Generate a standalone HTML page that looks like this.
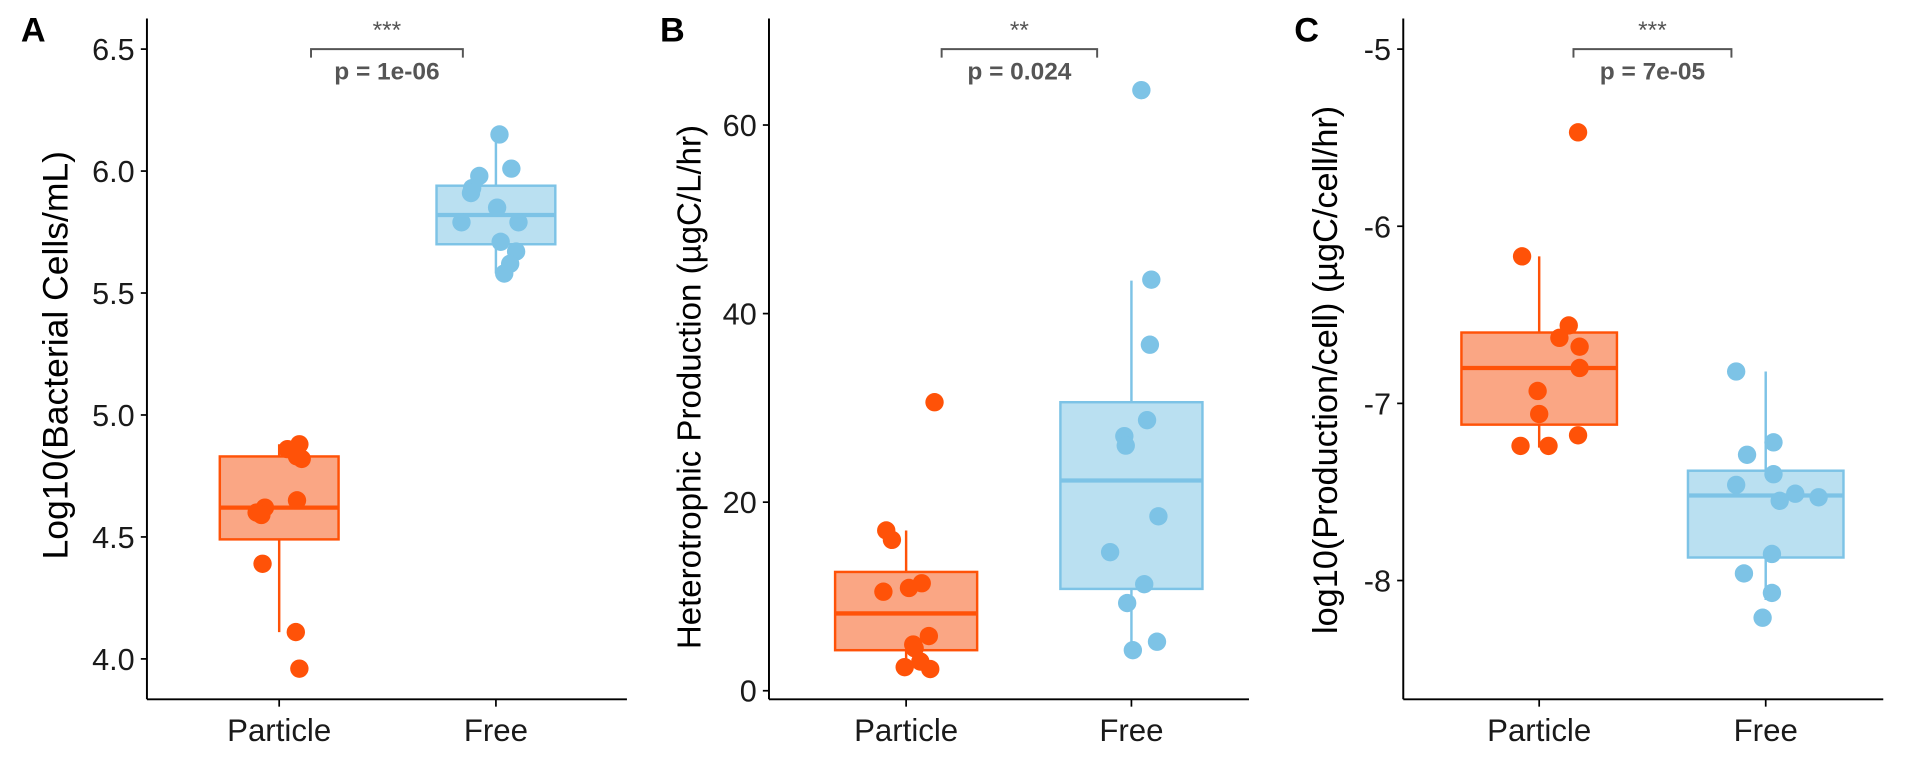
<!DOCTYPE html>
<html><head><meta charset="utf-8"><style>
html,body{margin:0;padding:0;background:#fff;width:1920px;height:768px;overflow:hidden}
svg{display:block;font-family:"Liberation Sans",sans-serif}
</style></head><body>
<svg id="chart" width="1920" height="768" viewBox="0 0 1568 627" xmlns="http://www.w3.org/2000/svg"></svg>
<script>
const categories = ["Particle","Free"];
// Panel A
const aTicks = [4.0,4.5,5.0,5.5,6.0,6.5];
const aBoxes = [[4.11,4.49,4.62,4.83,4.88],[5.58,5.70,5.82,5.94,6.15]];
const aPart = [4.86,4.88,4.83,4.82,4.65,4.62,4.60,4.59,4.39,4.11,3.96];
const aPartJ = [0.07,0.17,0.15,0.19,0.15,-0.12,-0.19,-0.15,-0.14,0.14,0.17];
const aFree = [6.15,6.01,5.98,5.93,5.91,5.85,5.79,5.79,5.71,5.67,5.62,5.58];
const aFreeJ = [0.03,0.13,-0.14,-0.20,-0.21,0.01,-0.29,0.19,0.04,0.17,0.12,0.07];
// Panel B
const bTicks = [0,20,40,60];
const bBoxes = [[2.3,4.3,8.2,12.6,17],[4.3,10.8,22.3,30.6,43.5]];
const bPart = [30.6,17,16,11.4,10.9,10.5,5.8,4.9,4.5,3.1,2.3,2.5];
const bPartJ = [0.20,-0.14,-0.10,0.11,0.02,-0.16,0.16,0.05,0.06,0.10,0.17,-0.01];
const bFree = [63.7,43.6,36.7,28.7,27,26,18.5,14.7,11.3,9.3,5.2,4.3];
const bFreeJ = [0.07,0.14,0.13,0.11,-0.05,-0.04,0.19,-0.15,0.09,-0.03,0.18,0.01];
// Panel C
const cTicks = [-8,-7,-6,-5];
const cBoxes = [[-7.25,-7.12,-6.80,-6.60,-6.17],[-8.11,-7.87,-7.52,-7.38,-6.82]];
const cPart = [-5.47,-6.17,-6.56,-6.63,-6.68,-6.80,-6.93,-7.06,-7.18,-7.24,-7.24];
const cPartJ = [0.25,-0.11,0.19,0.13,0.26,0.26,-0.01,0.00,0.25,-0.12,0.06];
const cFree = [-6.82,-7.22,-7.29,-7.40,-7.46,-7.51,-7.53,-7.55,-7.85,-7.96,-8.07,-8.21];
const cFreeJ = [-0.19,0.05,-0.12,0.05,-0.19,0.19,0.34,0.09,0.04,-0.14,0.04,-0.02];

const NS="http://www.w3.org/2000/svg";
const svg=document.getElementById('chart');
const OR="#FF5208", ORF="#FAA684", BL="#7DC3E6", BLF="#BAE0F1";
function mk(tag,attrs,parent,text){const e=document.createElementNS(NS,tag);for(const k in attrs)e.setAttribute(k,attrs[k]);if(text!==undefined)e.textContent=text;(parent||svg).appendChild(e);return e;}

function panel(cfg){
  const g=mk('g',{});
  
  
  const y=v=>cfg.y0+(v-cfg.v0)*(cfg.y1-cfg.y0)/(cfg.v1-cfg.v0);
  const x=i=>cfg.xc[i];
  const bw=cfg.bw;
  [[cfg.boxes[0],OR,ORF],[cfg.boxes[1],BL,BLF]].forEach(([b,c,f],i)=>{
    const bg=mk('g',{},g);
    
    
    mk('line',{x1:x(i),x2:x(i),y1:y(b[0]),y2:y(b[4]),stroke:c,'stroke-width':2},bg);
    mk('rect',{x:x(i)-bw/2,y:y(b[3]),width:bw,height:y(b[1])-y(b[3]),fill:f,stroke:c,'stroke-width':2},bg);
    mk('line',{x1:x(i)-bw/2,x2:x(i)+bw/2,y1:y(b[2]),y2:y(b[2]),stroke:c,'stroke-width':3.5},bg);
  });
  [[cfg.part,cfg.partJ,OR,0],[cfg.free,cfg.freeJ,BL,1]].forEach(([vals,jit,c,i])=>{
    vals.forEach((v,k)=>{
      const p=mk('circle',{cx:x(i)+jit[k]*bw,cy:y(v),r:7.5,fill:c},g);
      
      
    });
  });
  const ax=mk('g',{},g);
  
  
  mk('line',{x1:cfg.ax,x2:cfg.ax,y1:15,y2:571,stroke:'#000','stroke-width':1.6},ax);
  mk('line',{x1:cfg.ax,x2:cfg.ax+392,y1:571,y2:571,stroke:'#000','stroke-width':1.6},ax);
  cfg.ticks.forEach(t=>{
    mk('line',{x1:cfg.ax-5,x2:cfg.ax,y1:y(t),y2:y(t),stroke:'#000','stroke-width':1.4},ax);
    const l=mk('text',{x:cfg.ax-10,y:y(t)+9,'text-anchor':'end','font-size':25,fill:'#1a1a1a'},ax,cfg.fmt(t));
    
    
  });
  categories.forEach((c,i)=>{
    mk('line',{x1:x(i),x2:x(i),y1:571,y2:577,stroke:'#000','stroke-width':1.4},ax);
    const l=mk('text',{x:x(i),y:605,'text-anchor':'middle','font-size':25.5,fill:'#1a1a1a'},ax,c);
    
    
  });
  const yt=mk('text',{transform:`translate(${cfg.tx},${cfg.ty}) rotate(-90)`,'text-anchor':'middle','font-size':cfg.tf,fill:'#000'},g,cfg.title);
  
  
  const lt=mk('text',{x:cfg.lx,y:34,'font-size':28,'font-weight':'bold',fill:'#000'},g,cfg.letter);
  
  
  const br=mk('g',{},g);
  
  
  mk('path',{d:`M${cfg.bx[0]},47 V40 H${cfg.bx[1]} V47`,fill:'none',stroke:'#555','stroke-width':1.6},br);
  mk('text',{x:(cfg.bx[0]+cfg.bx[1])/2,y:31,'text-anchor':'middle','font-size':20,fill:'#555'},br,cfg.stars);
  mk('text',{x:(cfg.bx[0]+cfg.bx[1])/2,y:65,'text-anchor':'middle','font-size':20,'font-weight':'bold',fill:'#555'},br,cfg.p);
}
panel({letter:'A',ax:120,xc:[228,405],bw:97,y0:538,v0:4.0,y1:40,v1:6.5,ticks:aTicks,fmt:t=>t.toFixed(1),
  boxes:aBoxes,part:aPart,partJ:aPartJ,free:aFree,freeJ:aFreeJ,title:'Log10(Bacterial Cells/mL)',tx:55,ty:290,tf:29,lx:17,bx:[254,378],stars:'***',p:'p = 1e-06'});
panel({letter:'B',ax:628,xc:[740,924],bw:116,y0:564,v0:0,y1:102,v1:60,ticks:bTicks,fmt:t=>String(t),
  boxes:bBoxes,part:bPart,partJ:bPartJ,free:bFree,freeJ:bFreeJ,title:'Heterotrophic Production (µgC/L/hr)',tx:572,ty:316,tf:27,lx:539,bx:[769,896],stars:'**',p:'p = 0.024'});
panel({letter:'C',ax:1146,xc:[1257,1442],bw:127,y0:474,v0:-8,y1:40,v1:-5,ticks:cTicks,fmt:t=>String(t),
  boxes:cBoxes,part:cPart,partJ:cPartJ,free:cFree,freeJ:cFreeJ,title:'log10(Production/cell) (µgC/cell/hr)',tx:1092,ty:302,tf:28,lx:1057,bx:[1285,1414],stars:'***',p:'p = 7e-05'});
</script>
</body></html>
